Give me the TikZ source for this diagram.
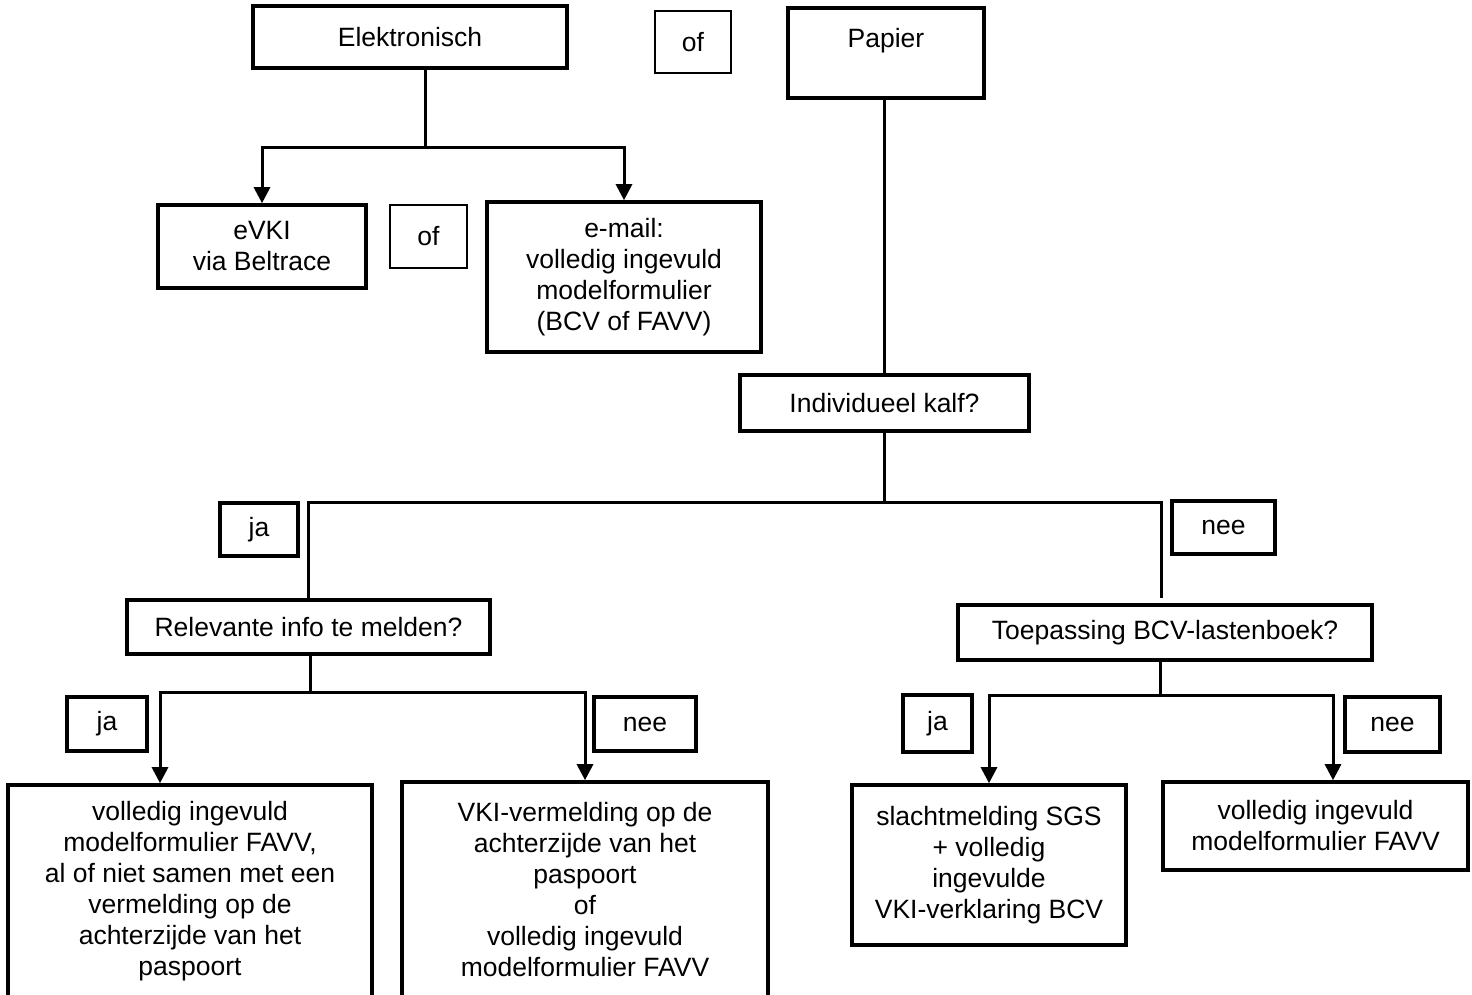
\documentclass[tikz,border=0pt]{standalone}
\usepackage{fontspec}
\setmainfont{Liberation Sans}
\usetikzlibrary{positioning, arrows.meta}

\begin{document}
\begin{tikzpicture}[
  x=0.5pt, y=-0.5pt,
  box/.style={draw, line width=1.8pt, align=center, inner sep=0pt,
    font=\fontsize{13.25}{15.5}\selectfont},
  orbox/.style={box, line width=0.9pt},
  answer/.style={box, line width=1.6pt},
  link/.style={line width=1.5pt},
  arrow/.style={link, -{Triangle[width=8pt, length=8pt]}}
]
  \useasboundingbox (0,0) rectangle (1472,995);
  \clip (0,0) rectangle (1472,995);

  % Top row
  \node[box, minimum width=157pt, minimum height=31pt] (elek) at (410,37) {Elektronisch};
  \node[orbox, minimum width=38pt, minimum height=31pt] (of1) at (693,42) {of};
  \node[box, minimum width=98pt, minimum height=45pt] (papier) at (886,53) {Papier\\ \mbox{}};

  % Electronic options
  \node[box, minimum width=104pt, minimum height=41.5pt] (evki) at (262,246.5) {eVKI\\via Beltrace};
  \node[orbox, minimum width=38.5pt, minimum height=31.5pt] (of2) at (428.5,236.5) {of};
  \node[box, minimum width=137pt, minimum height=75pt] (email) at (624,277)
    {e-mail:\\volledig ingevuld\\modelformulier\\(BCV of FAVV)};

  % Questions
  \node[box, minimum width=144.5pt, minimum height=28pt] (indiv) at (884.5,403) {Individueel kalf?};
  \node[box, minimum width=181.5pt, minimum height=27pt] (relev) at (308.5,627) {Relevante info te melden?};
  \node[box, minimum width=207pt, minimum height=27.5pt] (toep) at (1165,632.5) {Toepassing BCV-lastenboek?};

  % Answers
  \node[answer, minimum width=39pt, minimum height=26.5pt] (ja1) at (259,529.5) {ja};
  \node[answer, minimum width=51.5pt, minimum height=26.5pt] (nee1) at (1223.5,527.5) {nee};
  \node[answer, minimum width=40pt, minimum height=27pt] (ja2) at (107,724) {ja};
  \node[answer, minimum width=51pt, minimum height=27pt] (nee2) at (645,724) {nee};
  \node[answer, minimum width=34.5pt, minimum height=28.5pt] (ja3) at (937.5,723.5) {ja};
  \node[answer, minimum width=47.5pt, minimum height=27.5pt] (nee3) at (1392.5,724.5) {nee};

  % Results
  \node[box, minimum width=182pt, minimum height=106.5pt] (bl) at (190,891.5)
    {volledig ingevuld\\modelformulier FAVV,\\al of niet samen met een\\vermelding op de\\achterzijde van het\\paspoort};
  \node[box, minimum width=183pt, minimum height=108pt] (bm) at (585,890)
    {VKI-vermelding op de\\achterzijde van het\\paspoort\\of\\volledig ingevuld\\modelformulier FAVV};
  \node[box, minimum width=137pt, minimum height=80pt] (slacht) at (989,865)
    {slachtmelding SGS\\+ volledig\\ingevulde\\VKI-verklaring BCV};
  \node[box, minimum width=152.5pt, minimum height=44pt] (fr) at (1315.5,826)
    {volledig ingevuld\\modelformulier FAVV};

  % Connections: Elektronisch
  \coordinate (e) at (425,148);
  \draw[link] (e |- elek.south) -- (e);
  \draw[arrow] (e) -| (evki.north);
  \draw[arrow] (e) -| (email.north);

  % Connections: Papier
  \draw[link] (indiv.north |- papier.south) -- (indiv.north);
  \coordinate (k) at (884.5,502);
  \coordinate (kr) at (1161,598);
  \draw[link] (indiv.south) -- (k);
  \draw[link] (k) -| (relev.north);
  \draw[link] (k) -| (kr);

  % Connections: Relevante info
  \coordinate (r) at (310,692);
  \coordinate (rl) at (160,692);
  \draw[link] (r |- relev.south) -- (r);
  \draw[arrow] (r) -- (rl) -- (rl |- bl.north);
  \draw[arrow] (r) -| (bm.north);

  % Connections: Toepassing
  \coordinate (t) at (1160,695);
  \coordinate (tr) at (1333,695);
  \draw[link] (t |- toep.south) -- (t);
  \draw[arrow] (t) -| (slacht.north);
  \draw[arrow] (t) -- (tr) -- (tr |- fr.north);
\end{tikzpicture}
\end{document}
